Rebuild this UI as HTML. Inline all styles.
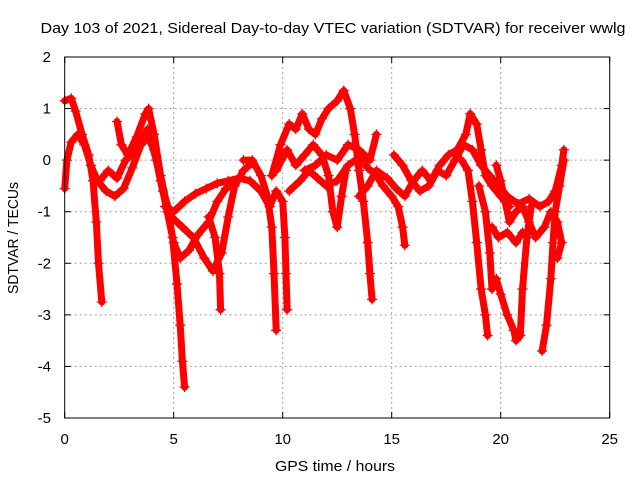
<!DOCTYPE html>
<html><head><meta charset="utf-8"><style>
body{margin:0;background:#fff;}
svg{display:block;font-family:"Liberation Sans",Arial,sans-serif;}
</style></head><body>
<svg id="chart" width="640" height="480" viewBox="0 0 640 480" xmlns="http://www.w3.org/2000/svg">
<rect width="640" height="480" fill="#fff"/>
<text x="333" y="33" font-size="15" text-anchor="middle" textLength="585" lengthAdjust="spacingAndGlyphs">Day 103 of 2021, Sidereal Day-to-day VTEC variation (SDTVAR) for receiver wwlg</text>
<text x="335" y="471" font-size="15" text-anchor="middle" textLength="120" lengthAdjust="spacingAndGlyphs">GPS time / hours</text>
<text transform="translate(18,238) rotate(-90)" font-size="15" text-anchor="middle" textLength="112" lengthAdjust="spacingAndGlyphs">SDTVAR / TECUs</text>
<g id="grid"></g>
<g id="ticks"></g>
<g id="series"></g>
<rect x="64.7" y="57" width="545" height="361" fill="none" stroke="#000" stroke-width="1"/>
</svg>
<script>
const xTicks = [0, 5, 10, 15, 20, 25];
const yTicks = [2, 1, 0, -1, -2, -3, -4, -5];
const track01 = [[0,1.15],[0.3,1.2],[0.5,0.95],[0.8,0.5],[1.1,0.1],[1.3,-0.4],[1.45,-1.2],[1.55,-2],[1.7,-2.75]];
const track02 = [[0,-0.55],[0.1,0],[0.3,0.35],[0.6,0.5],[0.9,0.3],[1.2,-0.1],[1.5,-0.4],[1.9,-0.6],[2.3,-0.7],[2.7,-0.55],[3.1,-0.15],[3.5,0.3],[3.8,0.45],[4.1,0.2],[4.4,-0.4],[4.7,-1.0],[5.0,-1.6],[5.3,-1.9],[5.7,-1.75],[6.1,-1.45],[6.6,-1.2],[7.0,-0.8],[7.4,-0.55],[7.8,-0.45]];
const track03 = [[2.4,0.75],[2.6,0.3],[2.9,0.1],[3.3,0.45],[3.7,0.9],[3.85,1.0],[4.1,0.5],[4.4,-0.3],[4.7,-0.9],[4.95,-1.5],[5.15,-2.4],[5.3,-3.2],[5.4,-3.9],[5.5,-4.4]];
const track04 = [[1.6,-0.4],[2.0,-0.2],[2.4,-0.35],[2.8,0.0],[3.3,0.2],[3.8,0.6],[4.2,0.0],[4.5,-0.6],[4.9,-1.1],[5.4,-1.3],[5.9,-1.5],[6.4,-1.9],[6.8,-2.15],[7.2,-1.8],[7.5,-1.1],[7.8,-0.5],[8.2,-0.2],[8.6,-0.05]];
const track05 = [[4.6,-0.9],[5.0,-1.0],[5.5,-0.8],[6.0,-0.65],[6.5,-0.55],[7.0,-0.45],[7.5,-0.4],[8.0,-0.35],[8.5,-0.4],[9.0,-0.6],[9.4,-0.9]];
const track06 = [[6.6,-1.1],[6.9,-1.5],[7.1,-2.2],[7.15,-2.9]];
const track07 = [[8.2,0.0],[8.6,0.0],[9.0,-0.3],[9.3,-0.7],[9.5,-1.3],[9.6,-2.2],[9.7,-3.3]];
const track08 = [[9.4,-0.9],[9.7,-0.6],[10.0,-0.8],[10.1,-1.5],[10.15,-2.2],[10.2,-2.9]];
const track09 = [[9.5,-0.3],[9.9,0.3],[10.3,0.7],[10.6,0.6],[10.9,0.9],[11.2,0.6],[11.5,0.5],[11.8,0.8],[12.1,1.0],[12.5,1.15],[12.8,1.35],[13.1,1.0],[13.3,0.5],[13.5,-0.2],[13.7,-0.8],[13.9,-1.6],[14.0,-2.2],[14.1,-2.7]];
const track10 = [[9.7,-0.2],[10.2,0.2],[10.6,-0.1],[11.0,0.1],[11.4,0.3],[11.8,0.1],[12.1,-0.3],[12.3,-1.0],[12.5,-1.3],[12.7,-0.7],[12.9,-0.2]];
const track11 = [[10.3,-0.6],[10.8,-0.4],[11.2,-0.2],[11.6,-0.35],[12.0,-0.5],[12.5,-0.4],[13.0,-0.1],[13.5,0.05],[13.9,-0.15],[14.3,-0.3],[14.6,-0.5],[15.0,-0.7],[15.3,-0.9],[15.5,-1.3],[15.6,-1.65]];
const track12 = [[11.0,-0.2],[11.5,-0.1],[12.0,0.1],[12.5,0.0],[13.0,0.3],[13.5,0.2],[14.0,0.0],[14.3,0.5]];
const track13 = [[13.5,-0.7],[13.9,-0.5],[14.3,-0.2],[14.8,-0.35],[15.2,-0.55],[15.6,-0.7],[16.0,-0.4],[16.4,-0.2],[16.8,-0.4],[17.2,-0.1],[17.6,0.1],[18.0,0.2],[18.4,0.5],[18.6,0.9],[18.9,0.7],[19.1,0.2],[19.3,-0.3],[19.6,-0.5],[20.0,-0.7],[20.4,-0.9]];
const track14 = [[15.1,0.1],[15.5,-0.1],[15.9,-0.4],[16.3,-0.6],[16.7,-0.5],[17.1,-0.2],[17.5,-0.3],[17.9,0.0],[18.3,0.3],[18.7,0.2],[19.1,-0.1],[19.5,-0.3],[19.9,-0.5],[20.3,-0.7],[20.8,-0.85],[21.3,-0.75],[21.8,-0.9],[22.2,-0.8],[22.5,-0.6],[22.8,-0.1],[22.9,0.2]];
const track15 = [[18.2,0.0],[18.5,-0.2],[18.7,-0.8],[18.9,-1.6],[19.1,-2.5],[19.3,-3.0],[19.4,-3.4]];
const track16 = [[19.0,-0.5],[19.3,-1.0],[19.5,-1.8],[19.6,-2.5],[19.8,-2.3],[20.0,-2.6],[20.3,-3.0],[20.6,-3.3],[20.7,-3.5],[20.9,-3.4]];
const track17 = [[19.8,-0.1],[20.0,-0.4],[20.2,-0.8],[20.4,-1.2],[20.7,-1.0],[21.0,-0.9],[21.3,-1.2],[21.6,-1.5],[22.0,-1.3],[22.3,-1.0],[22.6,-1.2],[22.8,-1.6],[22.6,-1.9]];
const track18 = [[20.9,-3.4],[21.0,-2.5],[21.2,-1.5],[21.4,-0.9]];
const track19 = [[21.9,-3.7],[22.1,-3.2],[22.3,-2.3],[22.4,-1.6],[22.5,-1.0],[22.7,-0.5],[22.9,0.0]];
const track20 = [[19.6,-1.3],[19.9,-1.5],[20.3,-1.4],[20.7,-1.6],[21.0,-1.4]];
const tracks = [track01,track02,track03,track04,track05,track06,track07,track08,track09,track10,track11,track12,track13,track14,track15,track16,track17,track18,track19,track20];

const NS = 'http://www.w3.org/2000/svg';
const X0 = 64.7, X1 = 609.7, Y0 = 418, Y1 = 57;
function xs(t){ return X0 + (t - 0) / 25 * (X1 - X0); }
function ys(v){ return Y0 - (v + 5) / 7 * (Y0 - Y1); }

const grid = document.getElementById('grid');
const ticks = document.getElementById('ticks');
xTicks.forEach(t => {
  const x = xs(t);
  if (t > 0 && t < 25) {
    const g = document.createElementNS(NS, 'line');
    
    
    g.setAttribute('x1', x); g.setAttribute('x2', x); g.setAttribute('y1', Y1); g.setAttribute('y2', Y0);
    g.setAttribute('stroke', '#a0a0a0'); g.setAttribute('stroke-dasharray', '2,3');
    grid.appendChild(g);
  }
  ['b','t'].forEach(s => {
    const l = document.createElementNS(NS, 'line');
    
    
    const y = s === 'b' ? Y0 : Y1, d = s === 'b' ? -6 : 6;
    l.setAttribute('x1', x); l.setAttribute('x2', x); l.setAttribute('y1', y); l.setAttribute('y2', y + d);
    l.setAttribute('stroke', '#000');
    ticks.appendChild(l);
  });
  const tx = document.createElementNS(NS, 'text');
  
  
  tx.setAttribute('x', x); tx.setAttribute('y', 444); tx.setAttribute('font-size', '15'); tx.setAttribute('text-anchor', 'middle');
  tx.textContent = t;
  ticks.appendChild(tx);
});
yTicks.forEach(v => {
  const y = ys(v);
  if (v > -5 && v < 2) {
    const g = document.createElementNS(NS, 'line');
    
    
    g.setAttribute('x1', X0); g.setAttribute('x2', X1); g.setAttribute('y1', y); g.setAttribute('y2', y);
    g.setAttribute('stroke', '#a0a0a0'); g.setAttribute('stroke-dasharray', '2,3');
    grid.appendChild(g);
  }
  ['l','r'].forEach(s => {
    const l = document.createElementNS(NS, 'line');
    
    
    const x = s === 'l' ? X0 : X1, d = s === 'l' ? 6 : -6;
    l.setAttribute('x1', x); l.setAttribute('x2', x + d); l.setAttribute('y1', y); l.setAttribute('y2', y);
    l.setAttribute('stroke', '#000');
    ticks.appendChild(l);
  });
  const tx = document.createElementNS(NS, 'text');
  
  
  tx.setAttribute('x', 51); tx.setAttribute('y', y + 5); tx.setAttribute('font-size', '15'); tx.setAttribute('text-anchor', 'end');
  tx.textContent = v;
  ticks.appendChild(tx);
});

const series = document.getElementById('series');
tracks.forEach((tr, i) => {
  const p = document.createElementNS(NS, 'path');
  
  
  p.setAttribute('d', tr.map((pt, j) => (j ? 'L' : 'M') + xs(pt[0]).toFixed(1) + ',' + ys(pt[1]).toFixed(1)).join(''));
  p.setAttribute('fill', 'none'); p.setAttribute('stroke', '#ff0000'); p.setAttribute('stroke-width', '7');
  p.setAttribute('stroke-linejoin', 'round'); p.setAttribute('stroke-linecap', 'round');
  series.appendChild(p);
  tr.forEach(pt => {
    const m = document.createElementNS(NS, 'path');
    
    
    const x = xs(pt[0]), y = ys(pt[1]);
    m.setAttribute('d', `M${x-5},${y}H${x+5}M${x},${y-5}V${y+5}`);
    m.setAttribute('stroke', '#ff0000'); m.setAttribute('stroke-width', '1.3');
    series.appendChild(m);
  });
});
</script>
</body></html>
